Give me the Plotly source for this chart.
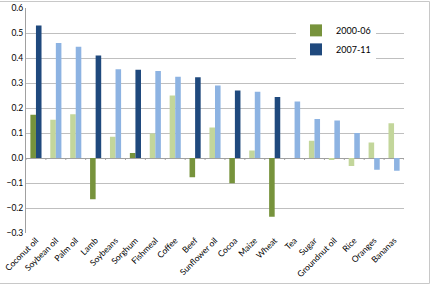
import plotly.graph_objects as go

categories = ["Coconut oil", "Soybean oil", "Palm oil", "Lamb", "Soybeans", "Sorghum",
              "Fishmeal", "Coffee", "Beef", "Sunflower oil", "Cocoa", "Maize", "Wheat",
              "Tea", "Sugar", "Groundnut oil", "Rice", "Oranges", "Bananas"]
v2000_06 = [0.173, 0.153, 0.175, -0.165, 0.085, 0.02, 0.098, 0.25, -0.077, 0.122,
            -0.101, 0.03, -0.235, 0.0, 0.069, -0.005, -0.032, 0.062, 0.139]
v2007_11 = [0.53, 0.46, 0.445, 0.41, 0.355, 0.353, 0.348, 0.325, 0.323, 0.29,
            0.27, 0.265, 0.244, 0.226, 0.156, 0.15, 0.1, -0.047, -0.051]
highlight = ["Coconut oil", "Lamb", "Sorghum", "Beef", "Cocoa", "Wheat"]
tick_vals = [0.6, 0.5, 0.4, 0.3, 0.2, 0.1, 0.0, -0.1, -0.2, -0.3]

G_DARK, G_LIGHT = "#77933C", "#C3D69B"
B_DARK, B_LIGHT = "#1F497D", "#8DB3E2"

gcol = [G_DARK if c in highlight else G_LIGHT for c in categories]
bcol = [B_DARK if c in highlight else B_LIGHT for c in categories]

fig = go.Figure()
fig.add_trace(go.Bar(x=categories, y=v2000_06, name="2000-06", marker=dict(color=gcol, line_width=0)))
fig.add_trace(go.Bar(x=categories, y=v2007_11, name="2007-11", marker=dict(color=bcol, line_width=0)))

# small tick marks on category axis between categories
for i in range(len(categories) + 1):
    fig.add_shape(type="line", xref="x", yref="y", x0=i - 0.5, x1=i - 0.5, y0=0, y1=-0.008,
                  line=dict(color="#A0A0A0", width=1))

L, R, T, B = 26, 27, 8, 54
W, H = 431, 287
pw, ph = W - L - R, H - T - B

def px_x(p):
    return (p - L) / pw

def px_y(p):
    return (H - B - p) / ph

# chart-area border (top, right, bottom)
border = dict(color="#C8C8C8", width=1)
fig.add_shape(type="line", xref="paper", yref="paper", x0=px_x(-5), x1=px_x(429.5),
              y0=px_y(1.5), y1=px_y(1.5), line=border)
fig.add_shape(type="line", xref="paper", yref="paper", x0=px_x(429.5), x1=px_x(429.5),
              y0=px_y(1.5), y1=px_y(283.5), line=border)
fig.add_shape(type="line", xref="paper", yref="paper", x0=px_x(-5), x1=px_x(429.5),
              y0=px_y(283.5), y1=px_y(283.5), line=border)

fig.update_layout(
    width=W, height=H,
    margin=dict(l=L, r=R, t=T, b=B),
    paper_bgcolor="white", plot_bgcolor="white",
    barmode="group", bargap=0.44, bargroupgap=0,
    font=dict(family="Lato, Open Sans, sans-serif", size=9, color="#000000"),
    showlegend=True,
    legend=dict(x=px_x(296), y=0.965, xanchor="left", yanchor="top", bgcolor="white",
                font=dict(size=9), itemwidth=30, tracegroupgap=0),
    xaxis=dict(tickangle=-45, showgrid=False, showline=False, ticks="",
               range=[-0.5, len(categories) - 0.5], tickfont=dict(size=8.5),
               automargin=False),
    yaxis=dict(range=[-0.3, 0.6], tickvals=tick_vals, tickformat=".1f",
               showgrid=True, gridcolor="#BFBFBF", gridwidth=1,
               zeroline=True, zerolinecolor="#A0A0A0", zerolinewidth=1,
               showline=True, linecolor="#A0A0A0", linewidth=1,
               ticks="", tickfont=dict(size=8.5), automargin=False),
)

fig.write_html("out.html")
